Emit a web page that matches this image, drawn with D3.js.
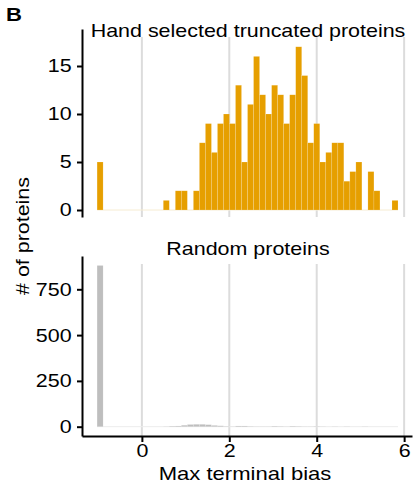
<!DOCTYPE html>
<html>
<head>
<meta charset="utf-8">
<script src="https://cdnjs.cloudflare.com/ajax/libs/d3/7.8.5/d3.min.js"></script>
<style>
  body { margin: 0; background: #fff; }
  text { font-family: "Liberation Sans", Arial, sans-serif; fill: #000; }
</style>
</head>
<body>
<script>
var w = 415;
var h = 484;

// binning of "Max terminal bias"
var binStart = -1.025;
var binWidth = 0.1377;

// counts per bin, hand selected truncated proteins
var handCounts = [5, 0, 0, 0, 0, 0, 0, 0, 0, 0,
  0, 1, 0, 2, 2, 0, 2, 7, 9, 6,
  9, 10, 9, 13, 5, 11, 16, 12, 10, 13,
  12, 9, 12, 17, 14, 7, 9, 5, 6, 7,
  7, 3, 4, 5, 0, 4, 2, 0, 0, 1];

// counts per bin, random proteins
var randomCounts = [880, 0, 0, 0, 0, 0, 0, 0, 0, 0,
  0, 1, 3, 4, 8, 12, 13, 13, 11, 7,
  5, 2, 1, 4, 4, 2, 1, 1, 1, 3,
  2, 1, 3, 2, 1, 1, 2, 1, 0, 1,
  0, 1, 0, 0, 1, 0, 0, 0, 0, 0];

var panelTitles = ["Hand selected truncated proteins", "Random proteins"];
var xTicks = [0, 2, 4, 6];
var handTicks = [0, 5, 10, 15];
var randomTicks = [0, 250, 500, 750];

var fs = "18.5px";   // base font size
var sx = 1.16;       // the figure's text is a bit wider than Liberation Sans

var svg = d3.select("body")
  .append("svg")
  .attr("width", w)
  .attr("height", h);

var x = d3.scaleLinear().domain([-1.37, 6.18]).range([82, 412]);

var panels = [
  { title: panelTitles[0], counts: handCounts, ticks: handTicks, color: "#E69F00", zero: "#f6ecd2",
    top: 29, bottom: 217, domain: [-0.729, 18.854], titleY: 37 },
  { title: panelTitles[1], counts: randomCounts, ticks: randomTicks, color: "#BEBEBE", zero: "#ececec",
    top: 256, bottom: 436, domain: [-50.8, 931.8], titleY: 255 }
];

panels.forEach(function(p, i) {
  var y = d3.scaleLinear().domain(p.domain).range([p.bottom, p.top]);
  var g = svg.append("g");

  // grid
  g.selectAll(".grid")
    .data(xTicks)
    .enter().append("line")
    .attr("x1", function(d) { return x(d); })
    .attr("x2", function(d) { return x(d); })
    .attr("y1", p.top + 8)
    .attr("y2", p.bottom)
    .attr("stroke", "#dcdcdc")
    .attr("stroke-width", 2);

  // faint baseline under the empty bins
  g.append("line")
    .attr("x1", x(binStart))
    .attr("x2", x(binStart + binWidth * p.counts.length))
    .attr("y1", y(0))
    .attr("y2", y(0))
    .attr("stroke", p.zero)
    .attr("stroke-width", 1);

  // bars
  p.counts.forEach(function(d, k) {
    if (d <= 0) return;
    g.append("rect")
      .attr("x", x(binStart + binWidth * k))
      .attr("width", x(binStart + binWidth * (k + 1)) - x(binStart + binWidth * k))
      .attr("y", y(d))
      .attr("height", y(0) - y(d))
      .attr("fill", p.color)
      .attr("stroke", "rgba(255,255,255,0.3)")
      .attr("stroke-width", 0.5);
  });

  // y axis
  var ya = g.append("g")
    .attr("transform", "translate(82,0)")
    .call(d3.axisLeft(y).tickValues(p.ticks).tickSize(5).tickSizeOuter(0).tickPadding(4));
  ya.select(".domain").attr("stroke-width", 2);
  ya.selectAll(".tick line").attr("stroke-width", 2);
  ya.selectAll(".tick text").style("font-size", fs).attr("fill", "#000")
    .attr("transform", "scale(" + sx + ",1)");

  // panel title
  g.append("text")
    .attr("transform", "translate(248," + p.titleY + ") scale(" + sx + ",1)")
    .attr("text-anchor", "middle")
    .style("font-size", fs)
    .text(p.title);

  if (i === 1) {
    var xa = g.append("g")
      .attr("transform", "translate(0," + p.bottom + ")")
      .call(d3.axisBottom(x).tickValues(xTicks).tickSize(6).tickSizeOuter(0).tickPadding(2));
    xa.select(".domain").attr("stroke-width", 2);
    xa.selectAll(".tick line").attr("stroke-width", 2);
    xa.selectAll(".tick text").style("font-size", fs).attr("fill", "#000")
      .attr("transform", "scale(" + sx + ",1)");
  }
});

// labels
svg.append("text")
  .attr("transform", "translate(245,480) scale(" + sx + ",1)")
  .attr("text-anchor", "middle")
  .style("font-size", "19px")
  .text("Max terminal bias");

svg.append("text")
  .attr("transform", "translate(29,236) rotate(-90) scale(" + sx + ",1)")
  .attr("text-anchor", "middle")
  .style("font-size", fs)
  .text("# of proteins");

svg.append("text")
  .attr("transform", "translate(6,21) scale(" + sx + ",1)")
  .style("font-size", "19px")
  .style("font-weight", "bold")
  .text("B");
</script>
</body>
</html>
